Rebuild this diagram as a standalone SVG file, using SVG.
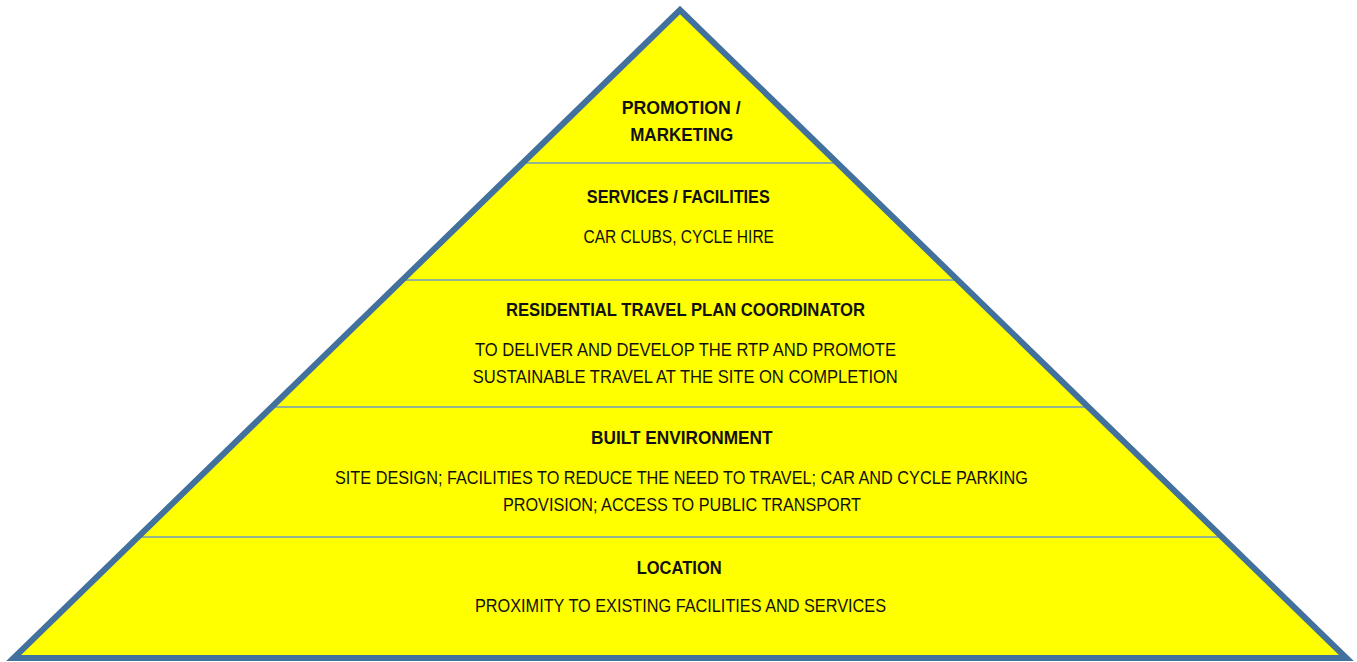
<svg xmlns="http://www.w3.org/2000/svg" width="1357" height="662" viewBox="0 0 1357 662">
  <style>
    .head { font-family: "Liberation Sans", Arial, sans-serif; font-weight: bold; font-size: 17.5px; fill: #111; text-anchor: middle; }
    .body { font-family: "Liberation Sans", Arial, sans-serif; font-size: 17.5px; fill: #111; text-anchor: middle; }
    .divider { stroke: #6f9cc4; stroke-width: 1.5; fill: none; }
  </style>
  <defs>
    <clipPath id="pyramidClip">
      <polygon points="680,10 13.6,658 1346.4,658"/>
    </clipPath>
  </defs>
  <rect width="1357" height="662" fill="#ffffff"/>

  <!-- pyramid body -->
  <g id="pyramid-fill">
    <polygon points="680,10 13.6,658 1346.4,658" fill="#ffff00"/>
  </g>

  <!-- tier dividers -->
  <g id="connectors" clip-path="url(#pyramidClip)">
    <line class="divider" x1="0" y1="163" x2="1357" y2="163"/>
    <line class="divider" x1="0" y1="280" x2="1357" y2="280"/>
    <line class="divider" x1="0" y1="407" x2="1357" y2="407"/>
    <line class="divider" x1="0" y1="537" x2="1357" y2="537"/>
  </g>

  <!-- pyramid outline -->
  <g id="pyramid-outline">
    <polygon points="680,10 13.6,658 1346.4,658" fill="none" stroke="#41719c" stroke-width="6" stroke-linejoin="miter"/>
  </g>

  <g id="tier-promotion">
    <text class="head" x="681.2" y="114" textLength="119" lengthAdjust="spacingAndGlyphs">PROMOTION /</text>
    <text class="head" x="681.7" y="141" textLength="103" lengthAdjust="spacingAndGlyphs">MARKETING</text>
  </g>

  <g id="tier-services">
    <text class="head" x="678.3" y="203" textLength="183" lengthAdjust="spacingAndGlyphs">SERVICES / FACILITIES</text>
    <text class="body" x="678.7" y="242.5" textLength="190.5" lengthAdjust="spacingAndGlyphs">CAR CLUBS, CYCLE HIRE</text>
  </g>

  <g id="tier-coordinator">
    <text class="head" x="685.5" y="316" textLength="359" lengthAdjust="spacingAndGlyphs">RESIDENTIAL TRAVEL PLAN COORDINATOR</text>
    <text class="body" x="685.5" y="356" textLength="421" lengthAdjust="spacingAndGlyphs">TO DELIVER AND DEVELOP THE RTP AND PROMOTE</text>
    <text class="body" x="685.3" y="382.5" textLength="425" lengthAdjust="spacingAndGlyphs">SUSTAINABLE TRAVEL AT THE SITE ON COMPLETION</text>
  </g>

  <g id="tier-built-environment">
    <text class="head" x="681.8" y="444" textLength="181.5" lengthAdjust="spacingAndGlyphs">BUILT ENVIRONMENT</text>
    <text class="body" x="681.5" y="484" textLength="693" lengthAdjust="spacingAndGlyphs">SITE DESIGN; FACILITIES TO REDUCE THE NEED TO TRAVEL; CAR AND CYCLE PARKING</text>
    <text class="body" x="682" y="510.5" textLength="358" lengthAdjust="spacingAndGlyphs">PROVISION; ACCESS TO PUBLIC TRANSPORT</text>
  </g>

  <g id="tier-location">
    <text class="head" x="679.2" y="573.5" textLength="85" lengthAdjust="spacingAndGlyphs">LOCATION</text>
    <text class="body" x="680.5" y="611.5" textLength="411" lengthAdjust="spacingAndGlyphs">PROXIMITY TO EXISTING FACILITIES AND SERVICES</text>
  </g>
</svg>
